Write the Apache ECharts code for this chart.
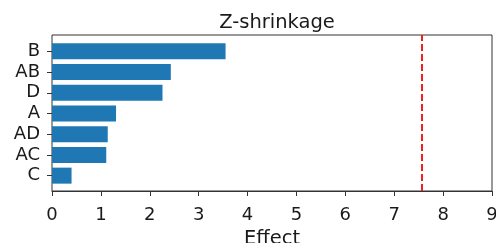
<!DOCTYPE html>
<html>
<head>
<meta charset="utf-8">
<script src="https://cdn.jsdelivr.net/npm/echarts@6/dist/echarts.min.js"></script>
<style>html,body{margin:0;padding:0;background:#fff}#c{width:496px;height:243px}</style>
</head>
<body>
<div id="c"></div>
<script>
const categories = ['B', 'AB', 'D', 'A', 'AD', 'AC', 'C'];
const effects = [3.55, 2.43, 2.26, 1.31, 1.14, 1.11, 0.40];
const threshold = 7.56;
const xTicks = [0, 9, 1]; // min, max, interval
const titleText = 'Z-shrinkage';
const xName = 'Effect';

const FONT = 'DejaVu Sans';
const chart = echarts.init(document.getElementById('c'), null, {renderer: 'canvas'});
chart.setOption({
  animation: false,
  backgroundColor: '#fff',
  title: {
    text: titleText, left: 272, top: 8, textAlign: 'center',
    textStyle: {fontFamily: FONT, fontSize: 19.5, fontWeight: 'normal', color: '#1a1a1a'}
  },
  grid: [
    {left: 52, right: 4, top: 41, bottom: 57, containLabel: false, outerBoundsMode: 'none'},
    {left: 52, right: 4, top: 35, bottom: 52, show: true, borderColor: '#333', borderWidth: 1, backgroundColor: 'transparent', containLabel: false, outerBoundsMode: 'none'}
  ],
  xAxis: [
    {
      type: 'value', gridIndex: 0, min: xTicks[0], max: xTicks[1], interval: xTicks[2], offset: 5,
      name: xName, nameLocation: 'middle', nameGap: 35,
      nameTextStyle: {fontFamily: FONT, fontSize: 19.5, color: '#1a1a1a'},
      axisLine: {show: true, lineStyle: {color: '#333', width: 1}},
      axisTick: {show: true, length: 5, lineStyle: {color: '#333'}},
      axisLabel: {fontFamily: FONT, fontSize: 18, color: '#1a1a1a', margin: 15},
      splitLine: {show: false}
    },
    {type: 'value', gridIndex: 1, min: xTicks[0], max: xTicks[1], show: false}
  ],
  yAxis: [
    {
      type: 'category', gridIndex: 0, data: categories, inverse: true,
      axisLine: {show: false},
      axisTick: {show: true, alignWithLabel: true, interval: 0, length: 5, lineStyle: {color: '#333'}},
      axisLabel: {fontFamily: FONT, fontSize: 18, color: '#1a1a1a', margin: 12, interval: 0}
    },
    {type: 'value', gridIndex: 1, min: 0, max: 1, show: false}
  ],
  series: [
    {
      type: 'bar', xAxisIndex: 0, yAxisIndex: 0, data: effects,
      barWidth: 16, itemStyle: {color: '#1f77b4'}
    },
    {
      type: 'line', xAxisIndex: 1, yAxisIndex: 1, data: [], silent: true,
      markLine: {
        symbol: 'none', silent: true, label: {show: false},
        lineStyle: {color: '#f02020', type: [7, 3], width: 2},
        data: [{xAxis: threshold}]
      }
    }
  ]
});
</script>
</body>
</html>
